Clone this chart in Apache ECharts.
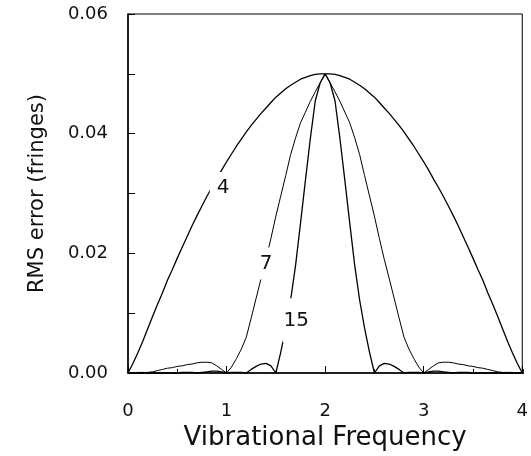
<!DOCTYPE html>
<html>
<head>
<meta charset="utf-8">
<script src="https://cdn.jsdelivr.net/npm/echarts@6/dist/echarts.min.js"></script>
<style>
  html, body { margin: 0; padding: 0; background: #fff; }
  #chart { width: 531px; height: 456px; }
</style>
</head>
<body>
<div id="chart"></div>
<script>
const freq = [
  0, 0.05, 0.1, 0.15, 0.2, 0.25, 0.3, 0.35, 0.4, 0.45,
  0.5, 0.55, 0.6, 0.65, 0.7, 0.75, 0.8, 0.85, 0.9, 0.95,
  1, 1.05, 1.1, 1.15, 1.2, 1.25, 1.3, 1.35, 1.4, 1.45,
  1.5, 1.55, 1.6, 1.65, 1.7, 1.75, 1.8, 1.85, 1.9, 1.95,
  2, 2.05, 2.1, 2.15, 2.2, 2.25, 2.3, 2.35, 2.4, 2.45,
  2.5, 2.55, 2.6, 2.65, 2.7, 2.75, 2.8, 2.85, 2.9, 2.95,
  3, 3.05, 3.1, 3.15, 3.2, 3.25, 3.3, 3.35, 3.4, 3.45,
  3.5, 3.55, 3.6, 3.65, 3.7, 3.75, 3.8, 3.85, 3.9, 3.95,
  4, 4.05, 4.1
]

// RMS error, 4 samples
const rms4 = [
  0, 0.0016, 0.0034, 0.0053, 0.0074, 0.0095, 0.0115, 0.0134, 0.0155, 0.0173,
  0.0192, 0.0210, 0.0228, 0.0246, 0.0263, 0.0279, 0.0295, 0.0310, 0.0324, 0.0339,
  0.0353, 0.0366, 0.0379, 0.0391, 0.0403, 0.0414, 0.0424, 0.0434, 0.0443, 0.0452,
  0.0461, 0.0468, 0.0475, 0.0481, 0.0486, 0.0491, 0.0494, 0.0497, 0.0499, 0.0500,
  0.0500, 0.0500, 0.0499, 0.0497, 0.0494, 0.0491, 0.0486, 0.0481, 0.0475, 0.0468,
  0.0461, 0.0452, 0.0443, 0.0434, 0.0424, 0.0414, 0.0403, 0.0391, 0.0379, 0.0366,
  0.0353, 0.0339, 0.0324, 0.0310, 0.0295, 0.0279, 0.0263, 0.0246, 0.0228, 0.0210,
  0.0192, 0.0173, 0.0155, 0.0134, 0.0115, 0.0095, 0.0074, 0.0053, 0.0034, 0.0016,
  0, 0.0016, 0.0034
]

// 7 samples
const rms7 = [
  0, 0, 0.0001, 0.0001, 0.0001, 0.0002, 0.0004, 0.0006, 0.0008, 0.0009,
  0.0011, 0.0012, 0.0014, 0.0015, 0.0017, 0.0018, 0.0018, 0.0017, 0.0012, 0.0006,
  0, 0.0010, 0.0024, 0.0040, 0.0060, 0.0092, 0.0125, 0.0158, 0.0190, 0.0225,
  0.0262, 0.0296, 0.0330, 0.0365, 0.0393, 0.0418, 0.0436, 0.0454, 0.0470, 0.0485,
  0.0500, 0.0485, 0.0470, 0.0454, 0.0436, 0.0418, 0.0393, 0.0365, 0.0330, 0.0296,
  0.0262, 0.0225, 0.0190, 0.0158, 0.0125, 0.0092, 0.0060, 0.0040, 0.0024, 0.0010,
  0, 0.0006, 0.0012, 0.0017, 0.0018, 0.0018, 0.0017, 0.0015, 0.0014, 0.0012,
  0.0011, 0.0009, 0.0008, 0.0006, 0.0004, 0.0002, 0.0001, 0.0001, 0.0001, 0,
  0, 0, 0.0001
]

// 15 samples
const rms15 = [
  0, 0, 0, 0, 0, 0, 0, 0, 0, 0,
  0, 0.0001, 0.0001, 0.0001, 0, 0.0001, 0.0002, 0.0003, 0.0003, 0.0002,
  0, 0.0001, 0.0001, 0.0001, 0, 0.0006, 0.0011, 0.0015, 0.0016, 0.0012,
  0, 0.0035, 0.0075, 0.0122, 0.0180, 0.0250, 0.0322, 0.0392, 0.0455, 0.0485,
  0.0500, 0.0485, 0.0455, 0.0392, 0.0322, 0.0250, 0.0180, 0.0122, 0.0075, 0.0035,
  0, 0.0012, 0.0016, 0.0015, 0.0011, 0.0006, 0, 0.0001, 0.0001, 0.0001,
  0, 0.0002, 0.0003, 0.0003, 0.0002, 0.0001, 0, 0.0001, 0.0001, 0.0001,
  0, 0, 0, 0, 0, 0, 0, 0, 0, 0,
  0, 0, 0
]

const seriesNames = ['4', '7', '15']

const FONT = '"DejaVu Sans", sans-serif'
const pairs = (ys) => freq.map((x, i) => [x, ys[i]])

// label boxes sit on the curves and blank them out like the original
const curveLabel = (name, coord, padding) => ({
    symbol: 'circle',
    symbolSize: 1,
    z: 10,
    itemStyle: { color: 'rgba(0,0,0,0)' },
    label: {
        show: true,
        position: 'inside',
        formatter: name,
        color: '#111',
        fontSize: 20,
        fontFamily: FONT,
        backgroundColor: '#fff',
        padding: padding
    },
    data: [{ coord: coord }]
})

const chart = echarts.init(document.getElementById('chart'), null, { renderer: 'canvas' })

chart.setOption({
    animation: false,
    backgroundColor: '#fff',
    grid: {
        left: 128,
        right: 8,
        top: 14,
        bottom: 82,
        show: true,
        borderColor: '#000',
        borderWidth: 1
    },
    xAxis: {
        type: 'value',
        min: 0,
        max: 4,
        interval: 1,
        name: 'Vibrational Frequency',
        nameLocation: 'middle',
        nameGap: 52,
        nameTextStyle: { fontSize: 26, color: '#111', fontFamily: FONT },
        axisLine: { show: true, onZero: false, lineStyle: { color: '#000', width: 1.5 } },
        axisTick: { show: true, inside: true, length: 7, lineStyle: { color: '#000' } },
        minorTick: { show: true, splitNumber: 2, length: 4, lineStyle: { color: '#000' } },
        axisLabel: { margin: 29, fontSize: 18, color: '#111', fontFamily: FONT },
        splitLine: { show: false }
    },
    yAxis: {
        type: 'value',
        min: 0,
        max: 0.06,
        interval: 0.02,
        name: 'RMS error (fringes)',
        nameLocation: 'middle',
        nameGap: 80,
        nameTextStyle: { fontSize: 21, color: '#111', fontFamily: FONT },
        axisLine: { show: true, onZero: false, lineStyle: { color: '#000', width: 1.5 } },
        axisTick: { show: true, inside: true, length: 7, lineStyle: { color: '#000' } },
        minorTick: { show: true, splitNumber: 2, length: 7, lineStyle: { color: '#000' } },
        axisLabel: {
            margin: 20,
            fontSize: 18,
            color: '#111',
            fontFamily: FONT,
            padding: [5, 0, 0, 0],
            formatter: (v) => v.toFixed(2)
        },
        splitLine: { show: false }
    },
    series: [
        {
            name: seriesNames[0],
            type: 'line',
            data: pairs(rms4),
            showSymbol: false,
            clip: false,
            lineStyle: { color: '#000', width: 1.3 },
            markPoint: curveLabel(seriesNames[0], [0.935, 0.0310], [10, 1, 1, 7])
        },
        {
            name: seriesNames[1],
            type: 'line',
            data: pairs(rms7),
            showSymbol: false,
            clip: false,
            lineStyle: { color: '#000', width: 1 },
            markPoint: curveLabel(seriesNames[1], [1.405, 0.0183], [11, 2, 1, 1])
        },
        {
            name: seriesNames[2],
            type: 'line',
            data: pairs(rms15),
            showSymbol: false,
            clip: false,
            lineStyle: { color: '#000', width: 1.3 },
            markPoint: curveLabel(seriesNames[2], [1.706, 0.0088], [15, 1, 9, 1])
        }
    ]
})

window.addEventListener('resize', function () {
    chart.resize()
})
</script>
</body>
</html>
